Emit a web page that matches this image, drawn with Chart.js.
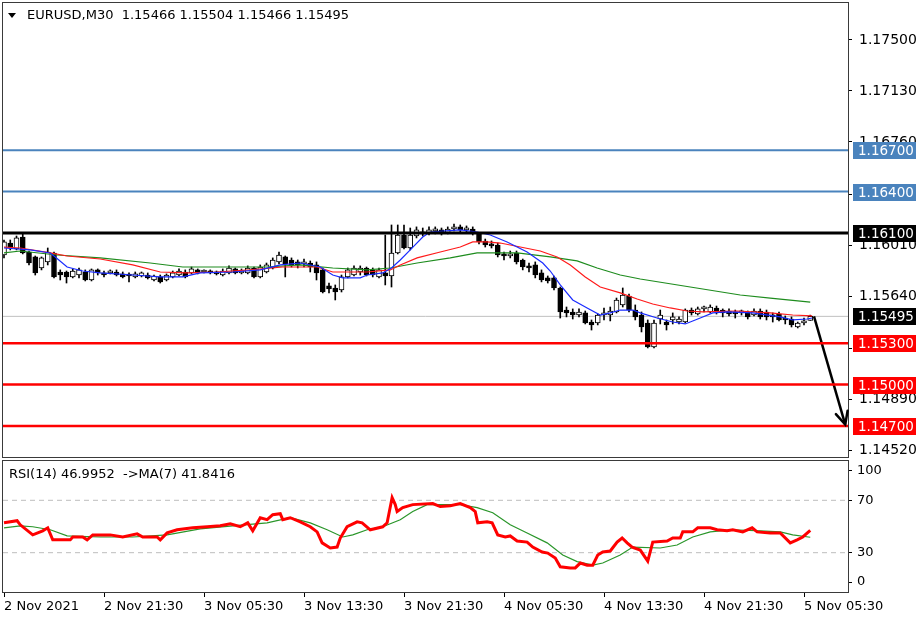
<!DOCTYPE html>
<html>
<head>
<meta charset="utf-8">
<script src="https://cdn.jsdelivr.net/npm/chart.js@4.4.0/dist/chart.umd.min.js"></script>
<style>
  body { margin: 0; background: #fff; width: 924px; height: 623px; overflow: hidden; position: relative; font-family: "DejaVu Sans", sans-serif; }
  canvas { position: absolute; left: 0; }
  #main { top: 0; }
  #rsi { top: 460px; }
  .hdr { position: absolute; font-size: 13px; line-height: 16px; color: #000; white-space: pre; }
  .tri { position: absolute; left: 8px; top: 13px; width: 0; height: 0; border-left: 4px solid transparent; border-right: 4px solid transparent; border-top: 5px solid #000; }
</style>
</head>
<body>
<canvas id="main" width="924" height="460"></canvas>
<canvas id="rsi" width="924" height="163"></canvas>
<div class="tri"></div>
<div class="hdr" style="left:27px;top:7px">EURUSD,M30  1.15466 1.15504 1.15466 1.15495</div>
<div class="hdr" style="left:9px;top:466px">RSI(14) 46.9952  -&gt;MA(7) 41.8416</div>
<script>
// EURUSD M30, bar 0 = 2 Nov 13:30
const barOpen = [
  1.15940,1.16027,1.15984,1.16071,1.15962,1.15926,1.15846,1.15890,1.15955,1.15817,
  1.15817,1.15781,1.15795,1.15817,1.15759,1.15832,1.15810,1.15810,1.15817,1.15803,
  1.15795,1.15781,1.15788,1.15795,1.15759,1.15781,1.15759,1.15781,1.15795,1.15817,
  1.15810,1.15832,1.15817,1.15824,1.15817,1.15795,1.15810,1.15839,1.15810,1.15810,
  1.15846,1.15781,1.15817,1.15846,1.15890,1.15926,1.15904,1.15890,1.15875,1.15882,
  1.15868,1.15832,1.15716,1.15701,1.15687,1.15781,1.15795,1.15817,1.15846,1.15832,
  1.15781,1.15810,1.15788,1.15955,1.16085,1.15991,1.16078,1.16107,1.16100,1.16115,
  1.16122,1.16100,1.16129,1.16144,1.16122,1.16129,1.16093,1.16042,1.16020,1.16013,
  1.15948,1.15933,1.15955,1.15904,1.15861,1.15868,1.15810,1.15774,1.15774,1.15701,
  1.15541,1.15527,1.15505,1.15520,1.15454,1.15447,1.15505,1.15505,1.15527,1.15578,
  1.15643,1.15541,1.15505,1.15447,1.15273,1.15476,1.15454,1.15469,1.15454,1.15454,
  1.15541,1.15512,1.15549,1.15527,1.15556,1.15541,1.15534,1.15527,1.15520,1.15527,
  1.15505,1.15534,1.15527,1.15505,1.15512,1.15483,1.15476,1.15418,1.15447,1.15466
];
const barHigh = [
  1.16049,1.16049,1.16078,1.16093,1.15969,1.15933,1.15926,1.15991,1.15962,1.15832,
  1.15824,1.15839,1.15846,1.15832,1.15839,1.15839,1.15824,1.15832,1.15832,1.15817,
  1.15810,1.15817,1.15817,1.15810,1.15795,1.15795,1.15803,1.15824,1.15839,1.15832,
  1.15853,1.15839,1.15832,1.15832,1.15824,1.15839,1.15861,1.15846,1.15839,1.15861,
  1.15853,1.15868,1.15882,1.15919,1.15962,1.15933,1.15919,1.15904,1.15911,1.15897,
  1.15890,1.15846,1.15737,1.15723,1.15795,1.15846,1.15861,1.15861,1.15853,1.15846,
  1.15846,1.16085,1.16158,1.16158,1.16158,1.16136,1.16144,1.16136,1.16144,1.16144,
  1.16136,1.16144,1.16165,1.16158,1.16151,1.16144,1.16100,1.16056,1.16042,1.16027,
  1.15962,1.15969,1.15969,1.15911,1.15882,1.15890,1.15832,1.15788,1.15788,1.15708,
  1.15563,1.15549,1.15549,1.15534,1.15469,1.15512,1.15556,1.15563,1.15628,1.15701,
  1.15657,1.15578,1.15527,1.15469,1.15469,1.15541,1.15469,1.15520,1.15491,1.15549,
  1.15556,1.15563,1.15570,1.15578,1.15570,1.15549,1.15549,1.15541,1.15541,1.15534,
  1.15549,1.15549,1.15541,1.15520,1.15527,1.15498,1.15491,1.15454,1.15483,1.15504
];
const barLow = [
  1.15919,1.15977,1.15977,1.15948,1.15868,1.15795,1.15832,1.15868,1.15774,1.15759,
  1.15737,1.15774,1.15774,1.15752,1.15752,1.15795,1.15781,1.15803,1.15788,1.15774,
  1.15745,1.15774,1.15781,1.15766,1.15752,1.15737,1.15752,1.15774,1.15788,1.15774,
  1.15803,1.15803,1.15810,1.15803,1.15795,1.15788,1.15803,1.15803,1.15803,1.15803,
  1.15774,1.15774,1.15810,1.15839,1.15875,1.15781,1.15853,1.15846,1.15853,1.15817,
  1.15759,1.15665,1.15665,1.15614,1.15672,1.15774,1.15788,1.15795,1.15788,1.15781,
  1.15774,1.15723,1.15708,1.15948,1.15984,1.15977,1.16064,1.16078,1.16085,1.16093,
  1.16085,1.16093,1.16115,1.16107,1.16107,1.16085,1.16020,1.15998,1.15991,1.15926,
  1.15904,1.15919,1.15875,1.15832,1.15817,1.15774,1.15745,1.15737,1.15687,1.15483,
  1.15491,1.15476,1.15491,1.15440,1.15396,1.15433,1.15469,1.15462,1.15520,1.15563,
  1.15527,1.15469,1.15382,1.15266,1.15266,1.15440,1.15396,1.15440,1.15440,1.15447,
  1.15505,1.15505,1.15527,1.15520,1.15512,1.15491,1.15498,1.15483,1.15505,1.15476,
  1.15498,1.15476,1.15469,1.15454,1.15462,1.15440,1.15418,1.15411,1.15433,1.15466
];
const barClose = [
  1.16035,1.15991,1.16064,1.15955,1.15882,1.15810,1.15919,1.15962,1.15781,1.15795,
  1.15781,1.15824,1.15832,1.15759,1.15832,1.15810,1.15795,1.15824,1.15795,1.15781,
  1.15788,1.15803,1.15810,1.15774,1.15788,1.15745,1.15795,1.15810,1.15824,1.15781,
  1.15839,1.15810,1.15824,1.15810,1.15803,1.15824,1.15846,1.15810,1.15824,1.15846,
  1.15781,1.15853,1.15868,1.15904,1.15940,1.15875,1.15868,1.15868,1.15890,1.15853,
  1.15810,1.15672,1.15694,1.15672,1.15781,1.15832,1.15846,1.15846,1.15795,1.15795,
  1.15832,1.15788,1.15955,1.16085,1.15991,1.16085,1.16122,1.16093,1.16122,1.16129,
  1.16100,1.16129,1.16144,1.16122,1.16129,1.16100,1.16035,1.16013,1.16006,1.15940,
  1.15933,1.15948,1.15890,1.15853,1.15846,1.15795,1.15759,1.15752,1.15701,1.15527,
  1.15520,1.15505,1.15527,1.15447,1.15433,1.15505,1.15520,1.15534,1.15614,1.15650,
  1.15541,1.15491,1.15418,1.15273,1.15447,1.15505,1.15433,1.15491,1.15476,1.15541,
  1.15520,1.15549,1.15556,1.15563,1.15527,1.15520,1.15512,1.15512,1.15527,1.15491,
  1.15534,1.15491,1.15491,1.15491,1.15469,1.15469,1.15433,1.15447,1.15462,1.15495
];

// moving averages (bar index, price)
const fastMaIdx = [0,4.2,7.4,8.2,10.1,12.6,15.4,20.6,25,28.6,31.4,36.6,41,44.2,47.4,50.6,52.6,54.2,57,58.1,60.6,62,63.4,65,67,68.2,73,75.7,77.8,80.5,83.7,86.2,87.4,89,91,93.3,95.4,97,98.6,100.6,101.8,104.5,107,109,111.4,113.4,115.7,119.8,124.2,126.2,128.5,129.3];
const fastMaVal = [1.15991,1.15977,1.15955,1.15926,1.15853,1.15824,1.15810,1.15795,1.15781,1.15781,1.15810,1.15817,1.15832,1.15868,1.15882,1.15853,1.15795,1.15774,1.15774,1.15795,1.15810,1.15846,1.15904,1.15977,1.16071,1.16107,1.16122,1.16107,1.16085,1.16035,1.15962,1.15882,1.15824,1.15723,1.15614,1.15556,1.15505,1.15520,1.15541,1.15541,1.15520,1.15483,1.15454,1.15440,1.15483,1.15520,1.15527,1.15520,1.15491,1.15469,1.15476,1.15483];
const midMaIdx = [0,2.6,7.4,10.1,15.4,20.6,25,29.3,34.1,39.4,44.6,50.1,52.6,58.1,61.8,63.4,66.1,69.8,73,75,77.3,79.4,82.6,85.8,88.5,90.6,93,95.4,98.6,101.3,103.8,106.6,109.3,111.8,117.3,122.6,126.2,129.3];
const midMaVal = [1.15998,1.15991,1.15955,1.15933,1.15911,1.15868,1.15817,1.15810,1.15817,1.15832,1.15853,1.15853,1.15817,1.15817,1.15832,1.15868,1.15919,1.15962,1.15998,1.16035,1.16035,1.16027,1.15998,1.15969,1.15926,1.15868,1.15781,1.15708,1.15665,1.15621,1.15585,1.15556,1.15534,1.15527,1.15534,1.15520,1.15505,1.15498];
const slowMaIdx = [0,2.6,8.5,15.4,23.4,28.6,36.6,42.1,47.4,52.6,58.1,61.8,66.1,71.4,75.7,78.2,82.1,87.4,91.7,94.9,98.6,101.8,109.8,117.8,122.6,129];
const slowMaVal = [1.15955,1.15969,1.15940,1.15919,1.15882,1.15853,1.15853,1.15853,1.15868,1.15846,1.15832,1.15846,1.15882,1.15919,1.15955,1.15955,1.15955,1.15926,1.15897,1.15846,1.15795,1.15766,1.15708,1.15650,1.15628,1.15599];

// horizontal levels and the arrow
const levelPrices = [1.16700, 1.16400, 1.16100, 1.15300, 1.15000, 1.14700];
const arrowFrom = { x: 129.6, y: 1.15495 };
const arrowTo = { x: 134.6, y: 1.14710 };

const priceTicks = [1.14520, 1.14890, 1.15260, 1.15640, 1.16010, 1.16380, 1.16760, 1.17130, 1.17500];
const xTickIdx = [0, 16, 32, 48, 64, 80, 96, 112, 128];
const xTickLabels = ['2 Nov 2021', '2 Nov 21:30', '3 Nov 05:30', '3 Nov 13:30', '3 Nov 21:30', '4 Nov 05:30', '4 Nov 13:30', '4 Nov 21:30', '5 Nov 05:30'];

// RSI(14) and its MA(7)
const rsiIdx = [0,2.1,2.6,4.6,6.2,7,7.8,10.6,11,12.6,13.3,14.2,17,19,21.3,22.2,24.5,25,26.1,27.7,30.2,32.5,34.6,36.2,37.8,39,39.8,41,42.1,43,44.2,44.6,45.8,47.4,49,50.1,50.9,52.2,53.3,53.8,54.9,56.5,57.3,58.6,60.6,61.3,62.1,62.6,62.9,63.8,65.4,68.6,69.8,71.4,73,74.6,75.4,75.8,77.3,78.1,79,80.2,81,82.1,83.7,84.6,86.1,87,88.2,89,90.6,91.4,92.2,93.3,94.2,95,95.8,97,98.1,98.9,99.7,100.5,101.8,103,103.8,106.1,107,108.2,108.6,110.2,111,113,114.1,115.7,116.6,118.2,119.7,120.5,122.6,124.2,125.8,126.9,127.8,129];
const rsiVal = [52.8,54.4,51.3,43.6,46.7,49,39.8,39.8,42,42,39.8,43.6,43.6,42,44.4,42,42,39.8,45.1,47.5,49,49.8,50.5,52,49.8,52.8,46.7,56.7,55.2,59,59.8,55.2,56.7,53.6,49.8,45.9,37.5,33.6,34.3,41.2,49.8,53.6,52.8,47.5,49.8,52.8,72,66.7,61.4,64.4,66.7,67.5,65.2,65.9,67.5,64.4,61.4,52.8,53.6,52.8,43.6,42,42.8,38.9,38.1,34.3,30.5,29.7,25.9,19.2,18.4,18.4,22.1,20.5,20.5,28.2,30.5,31.3,38.1,41.2,37.5,34.3,32,23.6,38.1,38.9,41.2,41.2,45.9,45.9,49,49,47.5,46.7,47.5,45.9,49,45.9,45.1,45.1,37.5,39.8,42,47.0];
const rsiMaIdx = [0,2.6,4.6,7.4,10.1,15.4,20.6,26.1,31.4,36.6,42.1,45.8,49,51.7,54.2,55.8,58.1,60.6,63.4,65.4,67.7,70.2,73,75.7,78.2,81,83.7,86.9,89.4,91.7,94.2,95.8,98.6,100.6,105,107.7,110.2,113,116.6,121,124.2,126.2,129];
const rsiMaVal = [49,50.5,49.8,47.5,42.8,42,42,43.6,48.2,50.5,52.8,56.7,52.8,47.5,42,43.6,47.5,49.8,55.2,61.4,66.7,66.7,66.7,64.4,60.5,51.3,45.1,37.5,28.2,23.2,20.5,22.1,28.2,34.3,33.6,35.9,42,45.9,47.5,46.7,45.9,43.6,41.8];
const rsiLevels = [70, 30];
const rsiTickValues = [0, 30, 70, 100];

const X_MIN = -0.16, X_MAX = 135.04;
const PRICE_MIN = 1.14475, PRICE_MAX = 1.17768;
const FONT = { family: 'DejaVu Sans', size: 13 };
const PRICE_FONT = { family: 'DejaVu Sans', size: 14 };
const levelColors = ['#4a83bd', '#4a83bd', '#000000', '#ff0000', '#ff0000', '#ff0000'];
const levelWidths = [2, 2, 3, 2.5, 2.5, 2.5];

const pts = (xs, ys) => xs.map((x, k) => ({ x: x, y: ys[k] }));
const hline = v => [{ x: X_MIN, y: v }, { x: X_MAX, y: v }];

const framePlugin = {
  id: 'frame',
  afterDraw(chart) {
    const { ctx, chartArea: a } = chart;
    ctx.save();
    ctx.strokeStyle = '#3a3a3a';
    ctx.lineWidth = 1;
    ctx.strokeRect(a.left - 0.5, a.top - 0.5, a.right - a.left + 1, a.bottom - a.top + 1);
    ctx.restore();
  }
};

const tagsPlugin = {
  id: 'tags',
  afterDraw(chart) {
    const { ctx, chartArea: a, scales } = chart;
    const ys = scales.y, xs = scales.x;
    ctx.save();
    // arrow head
    const x0 = xs.getPixelForValue(arrowFrom.x), y0 = ys.getPixelForValue(arrowFrom.y);
    const x1 = xs.getPixelForValue(arrowTo.x), y1 = ys.getPixelForValue(arrowTo.y);
    const ang = Math.atan2(y1 - y0, x1 - x0);
    ctx.strokeStyle = '#000';
    ctx.lineWidth = 2.5;
    ctx.lineCap = 'round';
    ctx.beginPath();
    ctx.moveTo(x1 - 14 * Math.cos(ang - 0.45), y1 - 14 * Math.sin(ang - 0.45));
    ctx.lineTo(x1, y1);
    ctx.lineTo(x1 - 14 * Math.cos(ang + 0.45), y1 - 14 * Math.sin(ang + 0.45));
    ctx.stroke();
    // price tags on the axis
    ctx.font = '13.5px "DejaVu Sans"';
    ctx.textBaseline = 'middle';
    const tag = (v, bg) => {
      const py = Math.round(ys.getPixelForValue(v));
      ctx.fillStyle = bg;
      ctx.fillRect(a.right + 5, py - 8, 63, 17);
      ctx.fillStyle = '#fff';
      ctx.fillText(v.toFixed(5), a.right + 10, py + 1);
    };
    levelPrices.forEach((v, k) => tag(v, levelColors[k]));
    tag(barClose[barClose.length - 1], '#000');
    ctx.restore();
  }
};

const bodyColors = barClose.map((c, i) => (c >= barOpen[i] ? '#ffffff' : '#000000'));

new Chart(document.getElementById('main'), {
  type: 'line',
  data: {
    datasets: [
      ...levelPrices.map((v, k) => ({
        data: hline(v), borderColor: levelColors[k], borderWidth: levelWidths[k],
        pointRadius: 0, order: 0
      })),
      { data: [arrowFrom, arrowTo], borderColor: '#000', borderWidth: 2.5, pointRadius: 0, order: 0 },
      { data: pts(fastMaIdx, fastMaVal), borderColor: '#1a2cff', borderWidth: 1.2, pointRadius: 0, order: 1 },
      { data: pts(midMaIdx, midMaVal), borderColor: '#ff1a1a', borderWidth: 1.2, pointRadius: 0, order: 1 },
      { data: pts(slowMaIdx, slowMaVal), borderColor: '#1e8c1e', borderWidth: 1.2, pointRadius: 0, order: 1 },
      {
        type: 'bar', data: barOpen.map((o, i) => ({ x: i, y: [o, barClose[i]] })),
        backgroundColor: bodyColors, borderColor: '#000', borderWidth: 1, borderSkipped: false,
        barThickness: 5, minBarLength: 2, grouped: false, order: 2
      },
      {
        type: 'bar', data: barLow.map((l, i) => ({ x: i, y: [l, barHigh[i]] })),
        backgroundColor: '#000', borderWidth: 0, barThickness: 1, grouped: false, order: 3
      },
      { data: hline(barClose[barClose.length - 1]), borderColor: '#c0c0c0', borderWidth: 1, pointRadius: 0, order: 4 }
    ]
  },
  options: {
    responsive: false,
    animation: false,
    events: [],
    layout: { padding: { left: 3, top: 3, right: 0, bottom: 3 } },
    plugins: { legend: { display: false }, tooltip: { enabled: false } },
    scales: {
      x: { type: 'linear', min: X_MIN, max: X_MAX, offset: false, display: false },
      y: {
        position: 'right', min: PRICE_MIN, max: PRICE_MAX, beginAtZero: false,
        grid: { drawOnChartArea: false, tickLength: 4, color: '#000' },
        border: { color: '#3a3a3a' },
        ticks: { font: PRICE_FONT, color: '#000', padding: 7, autoSkip: false, callback: v => v.toFixed(5) },
        afterBuildTicks: s => { s.ticks = priceTicks.map(v => ({ value: v })); },
        afterFit: s => { s.width = 76; s.paddingTop = 0; s.paddingBottom = 0; }
      }
    }
  },
  plugins: [framePlugin, tagsPlugin]
});

const rsiTickPos = v => (v === 0 ? 7.6 : v === 100 ? 92.4 : v);

new Chart(document.getElementById('rsi'), {
  type: 'line',
  data: {
    datasets: [
      { data: pts(rsiIdx, rsiVal), borderColor: '#ff0000', borderWidth: 3, pointRadius: 0, order: 0 },
      { data: pts(rsiMaIdx, rsiMaVal), borderColor: '#2a962a', borderWidth: 1.2, pointRadius: 0, order: 1 },
      ...rsiLevels.map(v => ({
        data: hline(v), borderColor: '#bdbdbd', borderWidth: 1, borderDash: [5, 4], pointRadius: 0, order: 2
      }))
    ]
  },
  options: {
    responsive: false,
    animation: false,
    events: [],
    layout: { padding: { left: 3, top: 1, right: 0, bottom: 0 } },
    plugins: { legend: { display: false }, tooltip: { enabled: false } },
    scales: {
      x: {
        type: 'linear', min: X_MIN, max: X_MAX, offset: false,
        grid: { drawOnChartArea: false, tickLength: 5, color: '#000' },
        border: { color: '#3a3a3a' },
        ticks: {
          font: FONT, color: '#000', align: 'start', padding: 2, maxRotation: 0, autoSkip: false,
          callback: v => xTickLabels[xTickIdx.indexOf(v)]
        },
        afterBuildTicks: s => { s.ticks = xTickIdx.map(v => ({ value: v })); },
        afterFit: s => { s.height = 31; s.paddingLeft = 0; s.paddingRight = 0; }
      },
      y: {
        position: 'right', min: 0, max: 100,
        grid: { drawOnChartArea: false, tickLength: 4, color: '#000' },
        border: { color: '#3a3a3a' },
        ticks: {
          font: FONT, color: '#000', padding: 5, autoSkip: false,
          callback: (v, i) => String(rsiTickValues[i])
        },
        afterBuildTicks: s => { s.ticks = rsiTickValues.map(v => ({ value: rsiTickPos(v) })); },
        afterFit: s => { s.width = 76; s.paddingTop = 0; s.paddingBottom = 0; }
      }
    }
  },
  plugins: [framePlugin]
});
</script>
</body>
</html>
